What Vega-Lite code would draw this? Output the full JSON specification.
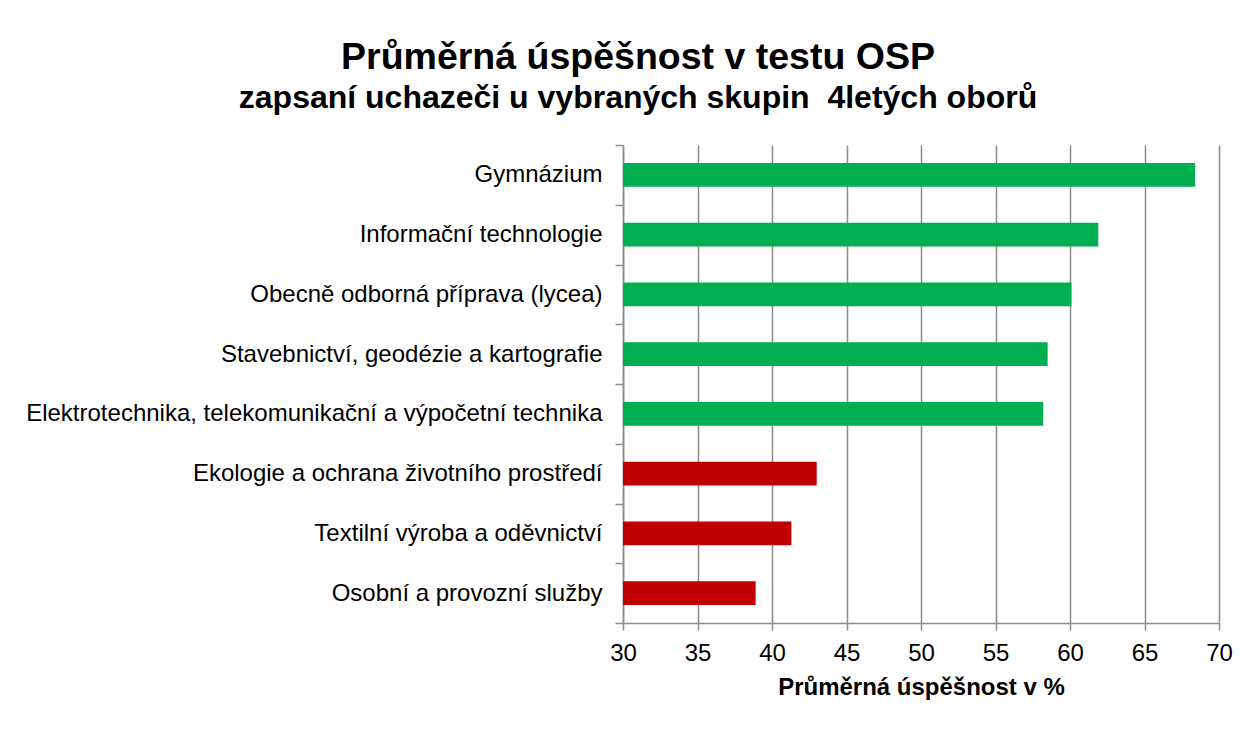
{
  "$schema": "https://vega.github.io/schema/vega-lite/v6.json",
  "width": 596,
  "height": 478,
  "autosize": {"type": "none"},
  "padding": {"left": 623, "top": 145, "right": 34, "bottom": 106},
  "background": "white",
  "title": {
    "text": "Průměrná úspěšnost v testu OSP",
    "subtitle": "zapsaní uchazeči u vybraných skupin \u00a04letých oborů",
    "anchor": "middle",
    "frame": "group",
    "dx": -283,
    "offset": 19,
    "font": "Liberation Sans",
    "fontSize": 37.5,
    "fontWeight": "bold",
    "color": "black",
    "subtitleFont": "Liberation Sans",
    "subtitleFontSize": 32,
    "subtitleFontWeight": "bold",
    "subtitleColor": "black",
    "subtitlePadding": 7
  },
  "data": {
    "values": [
      {"obor": "Gymnázium", "uspesnost": 68.4, "skupina": "nad"},
      {"obor": "Informační technologie", "uspesnost": 61.9, "skupina": "nad"},
      {"obor": "Obecně odborná příprava (lycea)", "uspesnost": 60.1, "skupina": "nad"},
      {"obor": "Stavebnictví, geodézie a kartografie", "uspesnost": 58.5, "skupina": "nad"},
      {"obor": "Elektrotechnika, telekomunikační a výpočetní technika", "uspesnost": 58.2, "skupina": "nad"},
      {"obor": "Ekologie a ochrana životního prostředí", "uspesnost": 43.0, "skupina": "pod"},
      {"obor": "Textilní výroba a oděvnictví", "uspesnost": 41.3, "skupina": "pod"},
      {"obor": "Osobní a provozní služby", "uspesnost": 38.9, "skupina": "pod"}
    ]
  },
  "mark": {"type": "bar", "clip": true, "height": {"band": 0.4}},
  "encoding": {
    "y": {
      "field": "obor",
      "type": "nominal",
      "sort": null,
      "scale": {"paddingInner": 0, "paddingOuter": 0},
      "axis": {
        "title": null,
        "labelFont": "Liberation Sans",
        "labelFontSize": 24,
        "labelColor": "black",
        "labelPadding": 13,
        "labelLimit": 700,
        "tickBand": "extent",
        "tickSize": 8,
        "tickColor": "#8c8c8c",
        "tickWidth": 1.5,
        "domainColor": "#8c8c8c",
        "domainWidth": 1.5,
        "grid": false
      }
    },
    "x": {
      "field": "uspesnost",
      "type": "quantitative",
      "scale": {"domain": [30, 70], "nice": false, "zero": false},
      "axis": {
        "title": "Průměrná úspěšnost v %",
        "titleFont": "Liberation Sans",
        "titleFontSize": 24,
        "titleFontWeight": "bold",
        "titleColor": "black",
        "titlePadding": 10,
        "values": [30, 35, 40, 45, 50, 55, 60, 65, 70],
        "labelFont": "Liberation Sans",
        "labelFontSize": 24,
        "labelColor": "black",
        "labelPadding": 11,
        "labelFlush": false,
        "tickSize": 7,
        "tickColor": "#8c8c8c",
        "tickWidth": 1.5,
        "domainColor": "#8c8c8c",
        "domainWidth": 1.5,
        "grid": true,
        "gridColor": "#8c8c8c",
        "gridWidth": 1.5
      }
    },
    "color": {
      "field": "skupina",
      "type": "nominal",
      "scale": {"domain": ["nad", "pod"], "range": ["#00B050", "#C00000"]},
      "legend": null
    }
  },
  "config": {"view": {"stroke": null}}
}
